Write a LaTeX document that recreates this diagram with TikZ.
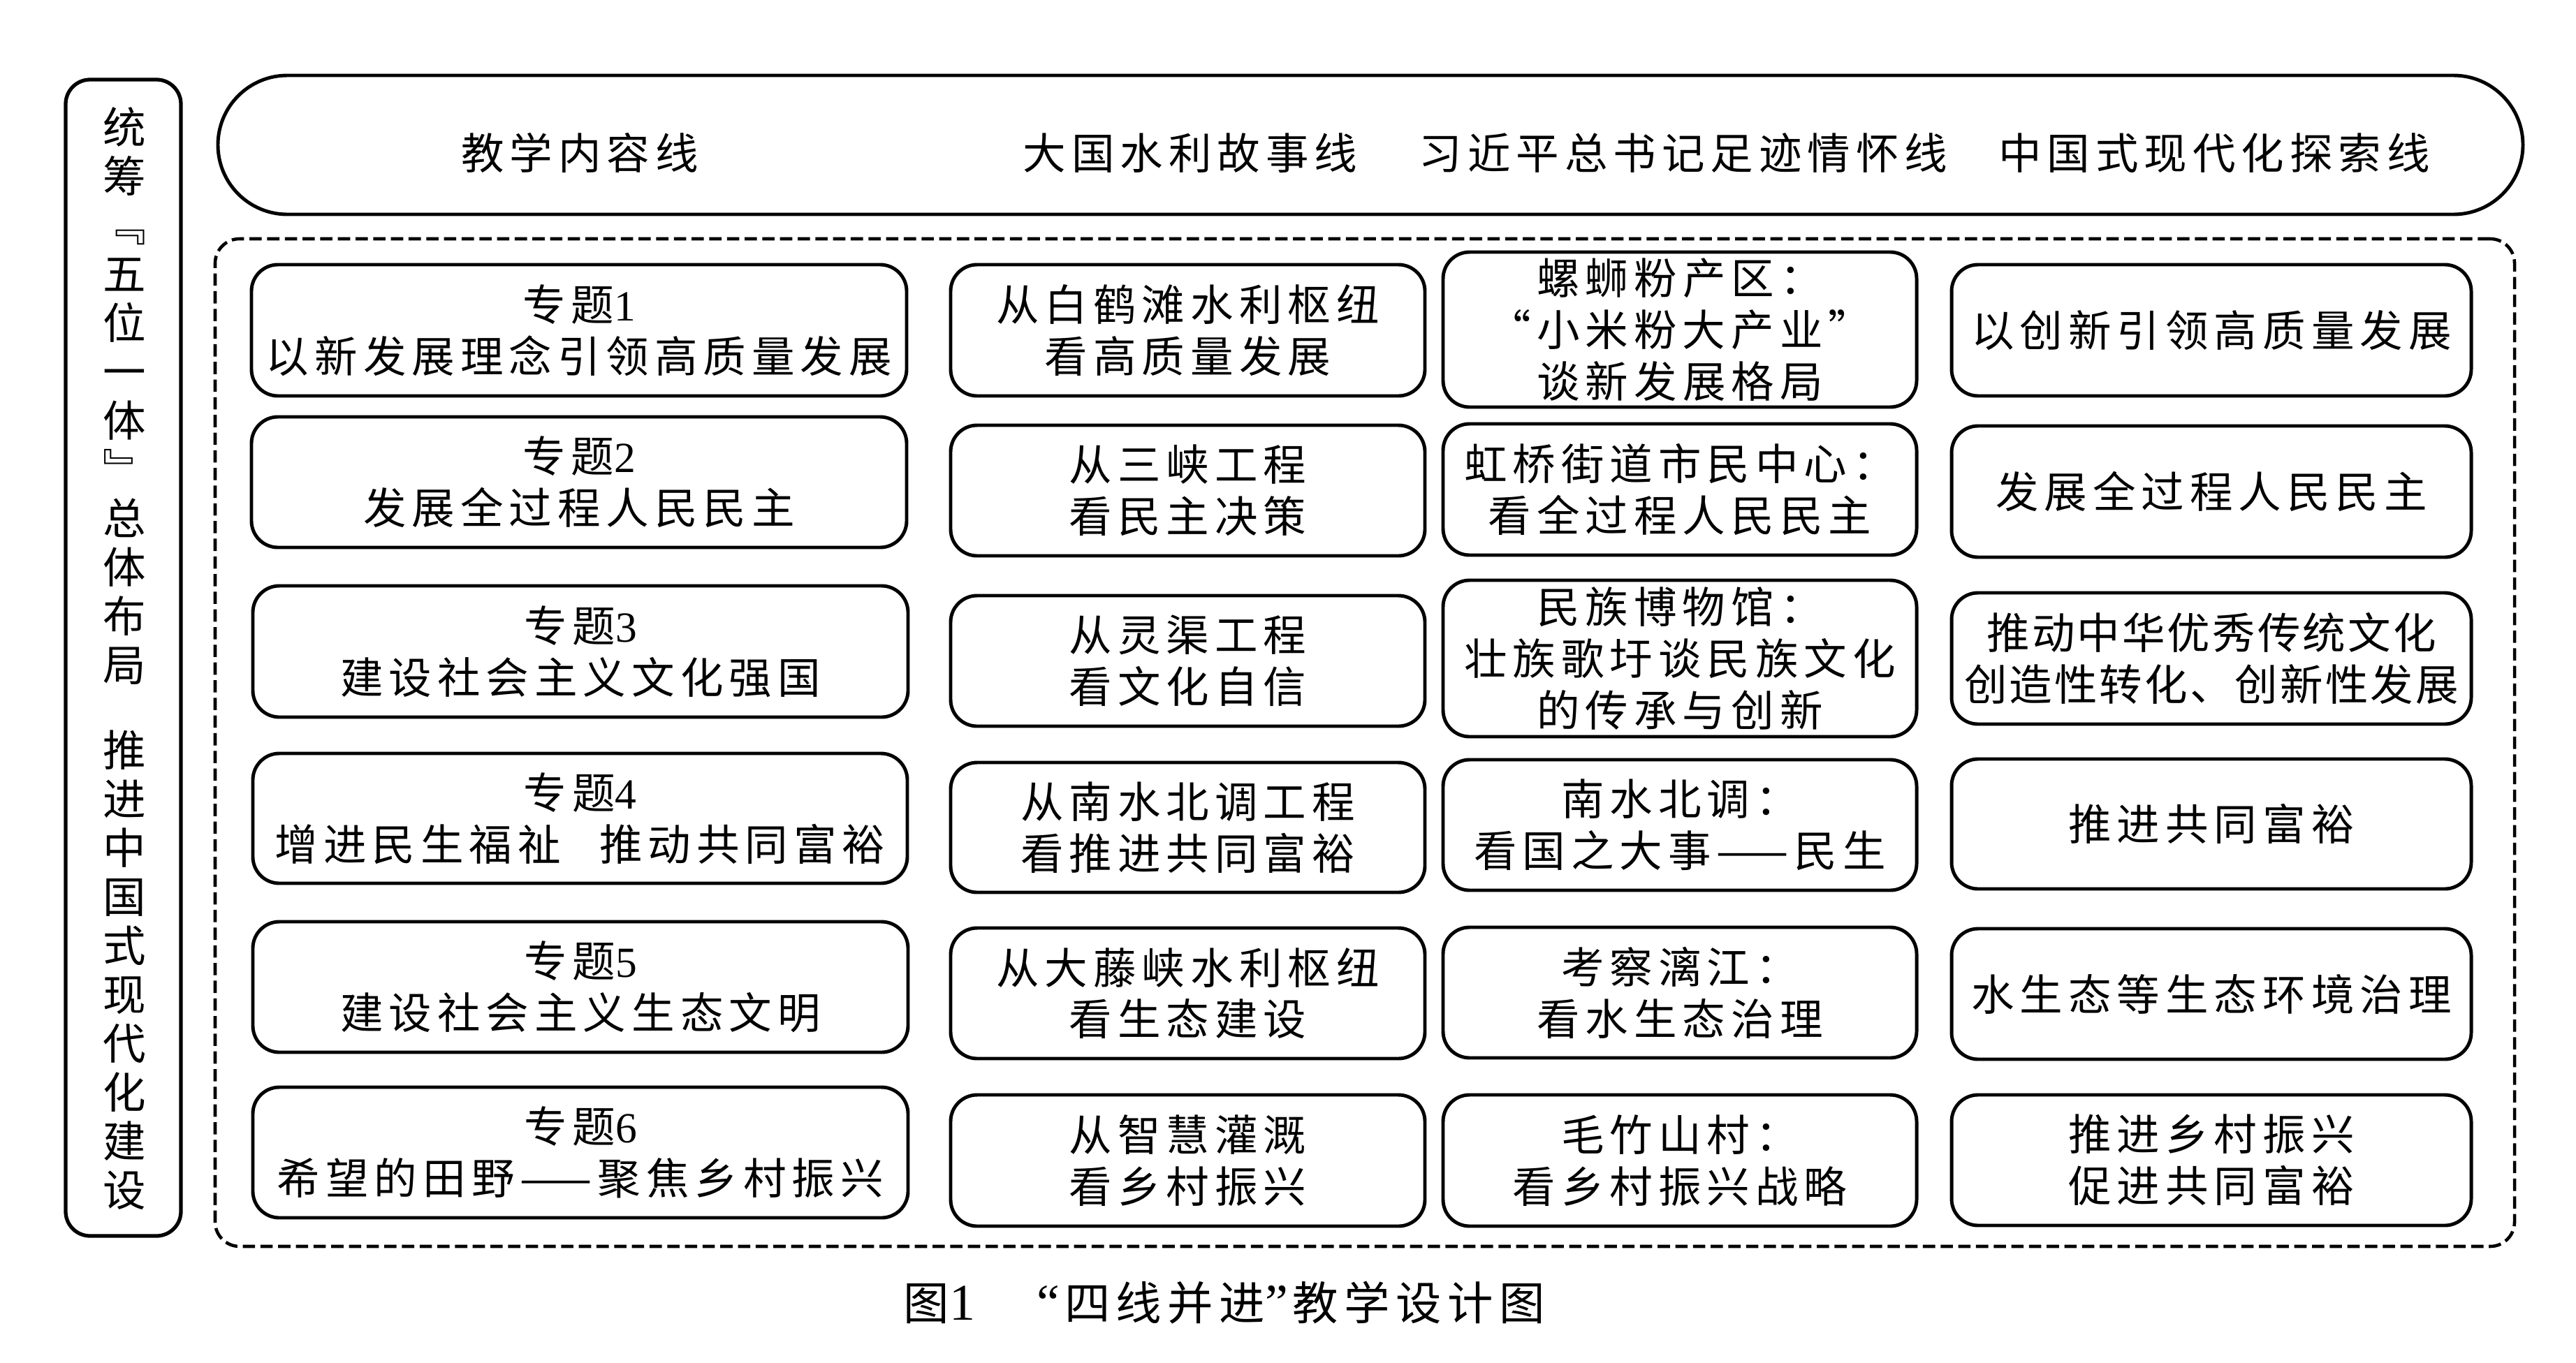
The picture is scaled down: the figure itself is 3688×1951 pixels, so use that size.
\documentclass[tikz,border=0pt]{standalone}
\usepackage{fontspec}
\setmainfont{Noto Sans CJK SC}[LetterSpace=13]
\newfontfamily\cjktight{Noto Sans CJK SC}[LetterSpace=5]
\newfontfamily\latf{Liberation Serif}
\usetikzlibrary{shapes.misc}
\newcommand\dg[1]{{\latf #1}}
\tikzset{
  txt/.style={font=\fontsize{17.5}{21}\selectfont, inner sep=0pt},
  captxt/.style={font=\fontsize{18.6}{21}\selectfont, inner sep=0pt},
  bx/.style={draw, line width=1.4pt, rounded corners=0.38cm, align=center, inner sep=0pt, txt},
  frame/.style={draw, line width=1.3pt, dash pattern=on 5pt off 2.2pt, rounded corners=0.35cm, inner sep=0pt},
  pillbox/.style={draw, line width=1.4pt, rounded rectangle, inner sep=0pt},
  sidebox/.style={draw, line width=1.5pt, rounded corners=0.35cm, inner sep=0pt},
}
\newcommand\bx[6]{\node[bx, minimum width={(#4-#2)*0.01cm}, minimum height={(#5-#3)*0.01cm}] (#1) at ({(#2+#4)/2},{(#3+#5)/2}) {#6};}
\begin{document}
\begin{tikzpicture}[x=0.01cm,y=-0.01cm]
\useasboundingbox (0,0) rectangle (3688,1951);
% side box
\node[sidebox, minimum width={165*0.01cm}, minimum height={1656*0.01cm}] (side) at (176.5,942) {};
\node[txt, align=center, font=\fontsize{17.5}{19.9}\selectfont] (sidetext) at (178,943)
 {统\\筹\\﹃\\五\\位\\一\\体\\﹄\\总\\体\\布\\局\\[14.8pt]推\\进\\中\\国\\式\\现\\代\\化\\建\\设};
% top pill
\node[pillbox, minimum width={3300*0.01cm}, minimum height={199*0.01cm}] (pill) at (1962,207.5) {};
\node[txt] (h1) at (830,219) {教学内容线};
\node[txt] (h2) at (1704,219) {大国水利故事线};
\node[txt] (h3) at (2410,219) {习近平总书记足迹情怀线};
\node[txt] (h4) at (3170,219) {中国式现代化探索线};
% dashed frame
\node[frame, minimum width={3292*0.01cm}, minimum height={1443*0.01cm}] (frm) at (1954,1063.5) {};
% column 1
\bx{a1}{360}{379}{1298}{567}{专题\dg{1}\\以新发展理念引领高质量发展}
\bx{a2}{360}{597}{1298}{784}{专题\dg{2}\\发展全过程人民民主}
\bx{a3}{362}{839}{1300}{1027}{专题\dg{3}\\建设社会主义文化强国}
\bx{a4}{362}{1079}{1299}{1265}{专题\dg{4}\\增进民生福祉\hspace{0.9em}推动共同富裕}
\bx{a5}{362}{1320}{1300}{1507}{专题\dg{5}\\建设社会主义生态文明}
\bx{a6}{362}{1557}{1300}{1744}{专题\dg{6}\\希望的田野——聚焦乡村振兴}
% column 2
\bx{b1}{1361}{379}{2040}{567}{从白鹤滩水利枢纽\\看高质量发展}
\bx{b2}{1361}{609}{2040}{796}{从三峡工程\\看民主决策}
\bx{b3}{1361}{853}{2040}{1040}{从灵渠工程\\看文化自信}
\bx{b4}{1361}{1092}{2040}{1278}{从南水北调工程\\看推进共同富裕}
\bx{b5}{1361}{1329}{2040}{1516}{从大藤峡水利枢纽\\看生态建设}
\bx{b6}{1361}{1568}{2040}{1756}{从智慧灌溉\\看乡村振兴}
% column 3
\bx{c1}{2066}{361}{2744}{583}{螺蛳粉产区：\\“小米粉大产业”\\谈新发展格局}
\bx{c2}{2066}{607}{2744}{795}{虹桥街道市民中心：\\看全过程人民民主}
\bx{c3}{2066}{831}{2744}{1055}{民族博物馆：\\壮族歌圩谈民族文化\\的传承与创新}
\bx{c4}{2066}{1088}{2744}{1275}{南水北调：\\看国之大事——民生}
\bx{c5}{2066}{1328}{2744}{1515}{考察漓江：\\看水生态治理}
\bx{c6}{2066}{1568}{2744}{1756}{毛竹山村：\\看乡村振兴战略}
% column 4
\bx{d1}{2794}{379}{3538}{567}{以创新引领高质量发展}
\bx{d2}{2794}{610}{3538}{798}{发展全过程人民民主}
\bx{d3}{2794}{849}{3538}{1037}{\cjktight 推动中华优秀传统文化\\\cjktight 创造性转化、创新性发展}
\bx{d4}{2794}{1087}{3538}{1273}{推进共同富裕}
\bx{d5}{2794}{1330}{3538}{1517}{水生态等生态环境治理}
\bx{d6}{2794}{1568}{3538}{1755}{推进乡村振兴\\促进共同富裕}
% caption
\node[captxt] (cap) at (1753,1866) {图{\latf\fontsize{21}{21}\selectfont 1}\hspace{25pt}{\latf\fontsize{21}{21}\selectfont “}\hspace{2pt}四线并进{\latf\fontsize{21}{21}\selectfont ”}\hspace{2pt}教学设计图};
\end{tikzpicture}
\end{document}
